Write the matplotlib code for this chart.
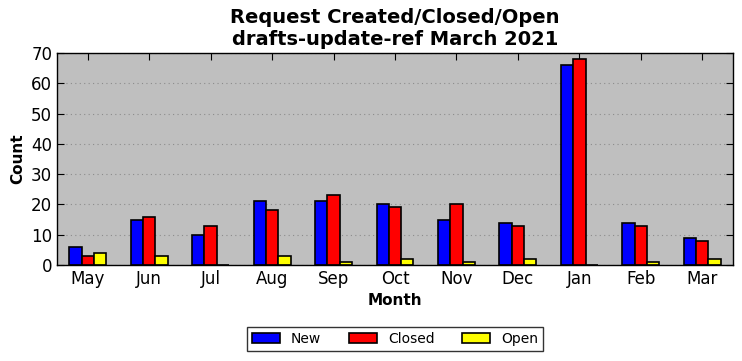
import numpy as np
import matplotlib.pyplot as plt

months = ['May', 'Jun', 'Jul', 'Aug', 'Sep', 'Oct', 'Nov', 'Dec', 'Jan', 'Feb', 'Mar']
new = [6, 15, 10, 21, 21, 20, 15, 14, 66, 14, 9]
closed = [3, 16, 13, 18, 23, 19, 20, 13, 68, 13, 8]
open_ = [4, 3, 0, 3, 1, 2, 1, 2, 0, 1, 2]

fig = plt.figure(figsize=(7.42, 3.61), dpi=100)
ax = fig.add_axes([57 / 742, 1 - 265 / 361, 676 / 742, 212 / 361])
ax.set_facecolor('#bfbfbf')

x = np.arange(len(months))
w = 0.2
ax.bar(x - w, new, w, color='blue', edgecolor='black', linewidth=1.2, label='New')
ax.bar(x, closed, w, color='red', edgecolor='black', linewidth=1.2, label='Closed')
ax.bar(x + w, open_, w, color='yellow', edgecolor='black', linewidth=1.2, label='Open')

ax.set_xlim(-0.5, len(months) - 0.5)
ax.set_ylim(0, 70)
ax.set_yticks(range(0, 71, 10))
ax.set_xticks(x)
ax.set_xticklabels(months)
ax.tick_params(direction='in', top=True, right=True, labelsize=12, length=5)
ax.yaxis.grid(True, linestyle=(0, (1, 3)), color='#8c8c8c', linewidth=0.8)
ax.set_axisbelow(True)
for s in ax.spines.values():
    s.set_linewidth(1.0)

ax.set_xlabel('Month', fontsize=11, fontweight='bold')
ax.set_ylabel('Count', fontsize=11, fontweight='bold')
ax.set_title('Request Created/Closed/Open\ndrafts-update-ref March 2021',
             fontsize=14, fontweight='bold')

leg = ax.legend(loc='upper center', bbox_to_anchor=(0.5, -0.26), ncol=3,
                fontsize=10, fancybox=False, edgecolor='black',
                handlelength=2.0, columnspacing=2.0, borderpad=0.35)
leg.get_frame().set_linewidth(1.0)

fig.savefig('out.png', dpi=100)
